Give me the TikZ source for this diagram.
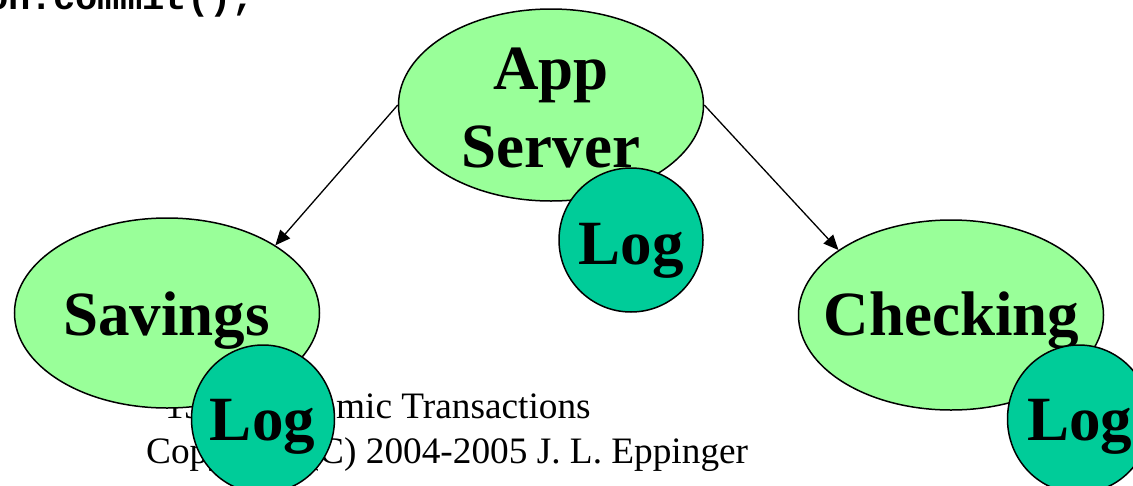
\documentclass[tikz,border=0pt]{standalone}
\usepackage{fontspec}
\setmainfont{Liberation Serif}
\newfontfamily\codefont{Liberation Mono}
\usetikzlibrary{shapes.geometric,arrows.meta}

\definecolor{hostgreen}{HTML}{99FF99}
\definecolor{loggreen}{HTML}{00CC99}

\tikzset{
  host/.style={ellipse, draw=black, line width=1.5pt, fill=hostgreen, inner sep=0pt},
  logdisk/.style={ellipse, draw=black, line width=1.5pt, fill=loggreen, inner sep=0pt},
  bigtext/.style={anchor=base, inner sep=0pt, font=\fontsize{63}{76}\selectfont\bfseries},
  foot/.style={anchor=base west, inner sep=0pt, font=\fontsize{37.3}{44}\selectfont},
  flow/.style={line width=1.3pt, -{Triangle[length=15pt,width=13pt]}},
}

\begin{document}
\begin{tikzpicture}[x=1pt, y=-1pt]
  \useasboundingbox (0,0) rectangle (1133,485);

  % code line cut at the top edge
  \node[anchor=base west, inner sep=0pt, font=\codefont\fontsize{37.2}{44}\selectfont\bfseries]
    (code) at (-14,9) {on.commit();};

  % footer
  \node[foot] (foot1) at (165,418) {15-415 Atomic Transactions};
  \node[foot] (foot2) at (146,463) {Copyright (C) 2004-2005 J. L. Eppinger};

  % hosts
  \node[host, minimum width=305pt, minimum height=192pt] (app) at (551,105) {};
  \node[bigtext] (applbl1) at (551,89) {App};
  \node[bigtext] (applbl2) at (551,167) {Server};

  \node[host, minimum width=305pt, minimum height=190pt] (sav) at (167,313) {};
  \node[bigtext] (savlbl) at (166.5,335) {Savings};

  \node[host, minimum width=305pt, minimum height=190pt] (chk) at (951,315) {};
  \node[bigtext] (chklbl) at (951.5,335) {Checking};

  % requests from the application server
  \draw[flow] (app.west) -- (sav.32);
  \draw[flow] (app.east) -- (chk.150);

  % logs
  \node[logdisk, minimum width=144pt, minimum height=144pt] (applog) at (631,240) {};
  \node[bigtext] (applogl) at (631,264) {Log};

  \node[logdisk, minimum width=143pt, minimum height=148pt] (savlog) at (263,419) {};
  \node[bigtext] (savlogl) at (262.5,440) {Log};

  \node[logdisk, minimum width=143pt, minimum height=148pt] (chklog) at (1079,419) {};
  \node[bigtext] (chklogl) at (1079.5,440) {Log};
\end{tikzpicture}
\end{document}
